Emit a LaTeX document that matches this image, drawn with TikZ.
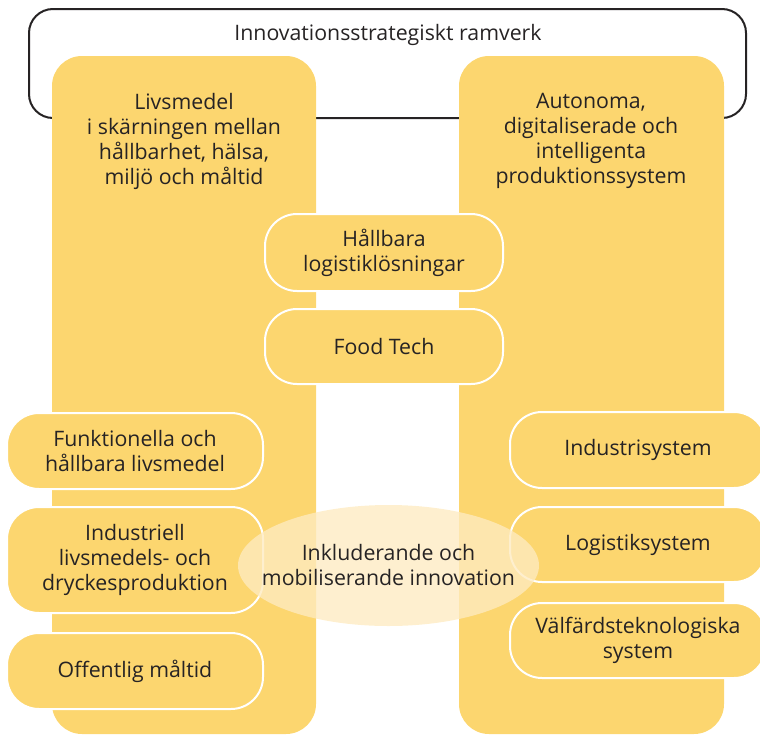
\documentclass[tikz,border=0pt]{standalone}
\usepackage{fontspec}
\setmainfont{Open Sans}
\definecolor{pillarfill}{HTML}{FCD66F}
\definecolor{corefill}{HTML}{FEEBC1}
\definecolor{ink}{HTML}{262324}
\tikzset{
	frame/.style={draw=ink, line width=2pt, rounded corners=24pt},
	pillar/.style={fill=pillarfill, rounded corners=30pt},
	topic/.style={draw=white, line width=2pt, fill=pillarfill, rounded corners=32pt, text=ink, align=center, inner sep=0pt},
	core/.style={ellipse, fill=corefill, fill opacity=0.78, text opacity=1, text=ink, align=center, inner sep=0pt},
	label/.style={text=ink, align=center}
}
\usetikzlibrary{shapes.geometric}
\begin{document}
\begin{tikzpicture}[x=1pt, y=-1pt, font=\fontsize{21.3}{25}\selectfont]
	\useasboundingbox (0,0) rectangle (760,736);
	\clip (0,0) rectangle (760,736);
	
	\draw[frame] (29,9) rectangle (746,118);
	\node[label] (ramverk) at (388,35) {Innovationsstrategiskt ramverk};
	
	\fill[pillar] (52,56) rectangle (316,734);
	\fill[pillar] (459,56) rectangle (724,734);
	
	\node[label] (livsmedel) at (184,141) {Livsmedel\\i skärningen mellan\\hållbarhet, hälsa,\\miljö och måltid};
	\node[label] (autonoma) at (591,141) {Autonoma,\\digitaliserade och\\intelligenta\\produktionssystem};
	
	\node[topic, minimum width=238pt, minimum height=77pt] (logistik) at (384,252.5) {Hållbara\\logistiklösningar};
	\node[topic, minimum width=238pt, minimum height=75pt] (foodtech) at (384,346.5) {Food Tech};
	
	\node[topic, minimum width=256pt, minimum height=76pt] (funktionella) at (135,451) {Funktionella och\\hållbara livsmedel};
	\node[topic, minimum width=256pt, minimum height=106pt] (industriell) at (135,560) {Industriell\\livsmedels- och\\dryckesproduktion};
	\node[topic, minimum width=256pt, minimum height=76pt] (offentlig) at (135,671) {Offentlig måltid};
	
	\node[topic, minimum width=256pt, minimum height=76pt] (industri) at (638,450) {Industrisystem};
	\node[topic, minimum width=256pt, minimum height=75pt] (logistiksystem) at (638,544.5) {Logistiksystem};
	\node[topic, minimum width=256pt, minimum height=75pt] (valfard) at (638,640.5) {Välfärdsteknologiska\\system};
	
	\node[core, minimum width=301pt, minimum height=121pt] (inkluderande) at (388.5,565.5) {};
	\node[label] (inkluderandetext) at (inkluderande.center) {Inkluderande och\\mobiliserande innovation};
\end{tikzpicture}
\end{document}
